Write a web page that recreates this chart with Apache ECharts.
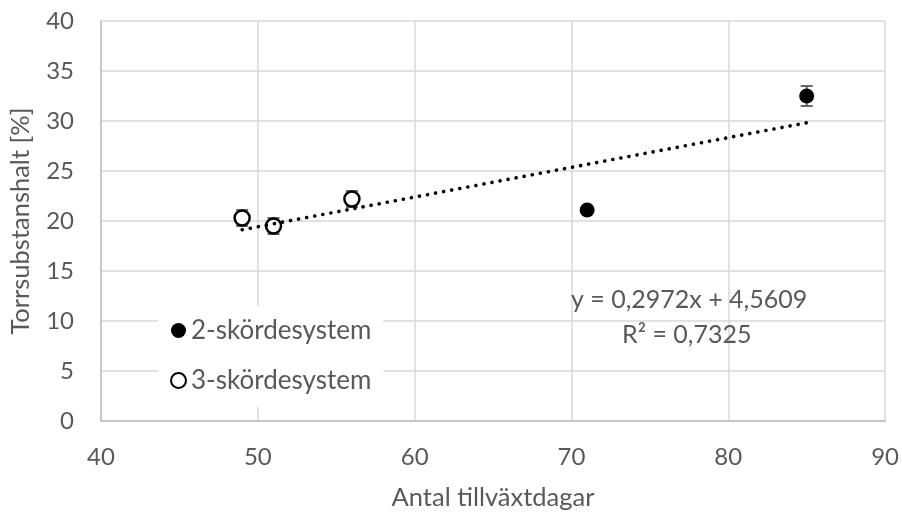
<!DOCTYPE html>
<html>
<head>
<meta charset="utf-8">
<script src="https://cdn.jsdelivr.net/npm/echarts@6/dist/echarts.min.js"></script>
<style>
  html, body { margin: 0; padding: 0; background: #fff; }
  #chart { width: 902px; height: 516px; }
</style>
</head>
<body>
<div id="chart"></div>
<script>
// 2-skördesystem: growth days, dry matter content and error
const days2 = [71, 85];
const dm2 = [21.1, 32.5];
const err2 = [0.3, 1.0];

// 3-skördesystem
const days3 = [49, 51, 56];
const dm3 = [20.3, 19.5, 22.2];
const err3 = [0.8, 0.8, 0.8];

// Linear trendline over all points
const trendSlope = 0.2972;
const trendIntercept = 4.5609;
const trendR2 = 0.7325;
const trendRange = [49, 85];

const xTicks = [40, 50, 60, 70, 80, 90];
const yTicks = [0, 5, 10, 15, 20, 25, 30, 35, 40];

const FONT = 'Lato, "Open Sans", sans-serif';
const TXT = '#595959';

const fmt = (v) => v.toFixed(4).replace('.', ',');

const pts = (xs, ys) => xs.map((x, i) => [x, ys[i]]);
const errPts = (xs, ys, es) => xs.map((x, i) => [x, ys[i] - es[i], ys[i] + es[i]]);

const trendData = trendRange.map(x => [x, trendSlope * x + trendIntercept]);

function renderErr(params, api) {
  const lo = api.coord([api.value(0), api.value(1)]);
  const hi = api.coord([api.value(0), api.value(2)]);
  const half = 6;
  const style = { stroke: '#595959', lineWidth: 1.8 };
  return {
    type: 'group',
    children: [
      { type: 'line', shape: { x1: lo[0], y1: lo[1], x2: hi[0], y2: hi[1] }, style },
      { type: 'line', shape: { x1: lo[0] - half, y1: lo[1], x2: lo[0] + half, y2: lo[1] }, style },
      { type: 'line', shape: { x1: hi[0] - half, y1: hi[1], x2: hi[0] + half, y2: hi[1] }, style }
    ]
  };
}

const chart = echarts.init(document.getElementById('chart'), null, { renderer: 'canvas' });

chart.setOption({
  animation: false,
  backgroundColor: '#fff',
  textStyle: { fontFamily: FONT },
  grid: { left: 101, right: 16, top: 21, bottom: 93 },
  xAxis: {
    type: 'value',
    min: xTicks[0],
    max: xTicks[xTicks.length - 1],
    interval: xTicks[1] - xTicks[0],
    name: 'Antal tillväxtdagar',
    nameLocation: 'middle',
    nameGap: 64,
    nameTextStyle: { fontFamily: FONT, fontSize: 25.5, color: TXT },
    axisLine: { show: true, onZero: false, lineStyle: { color: '#bfbfbf', width: 1.5 } },
    axisTick: { show: false },
    axisLabel: { fontFamily: FONT, fontSize: 24, color: TXT, margin: 24 },
    splitLine: { show: true, lineStyle: { color: '#d9d9d9', width: 1.5 } }
  },
  yAxis: {
    type: 'value',
    min: yTicks[0],
    max: yTicks[yTicks.length - 1],
    interval: yTicks[1] - yTicks[0],
    name: 'Torrsubstanshalt [%]',
    nameLocation: 'middle',
    nameGap: 67,
    nameTextStyle: { fontFamily: FONT, fontSize: 25.5, color: TXT },
    axisLine: { show: true, lineStyle: { color: '#bfbfbf', width: 1.5 } },
    axisTick: { show: false },
    axisLabel: { fontFamily: FONT, fontSize: 24, color: TXT, margin: 27 },
    splitLine: { show: true, lineStyle: { color: '#d9d9d9', width: 1.5 } }
  },
  legend: {
    orient: 'vertical',
    left: 158,
    top: 306,
    z: 10,
    backgroundColor: '#fff',
    padding: [11, 12, 13, 12],
    itemGap: 23,
    itemWidth: 15,
    itemHeight: 15,
    textStyle: { fontFamily: FONT, fontSize: 26, color: TXT, lineHeight: 27 },
    data: ['2-skördesystem', '3-skördesystem']
  },
  graphic: [
    {
      type: 'text', left: 571, top: 287, z: 10,
      style: { text: 'y = ' + fmt(trendSlope) + 'x + ' + fmt(trendIntercept), font: '25px ' + FONT, fill: TXT }
    },
    {
      type: 'text', left: 622, top: 322, z: 10,
      style: { text: 'R² = ' + fmt(trendR2), font: '25px ' + FONT, fill: TXT }
    }
  ],
  series: [
    {
      type: 'custom', name: 'err2', renderItem: renderErr, z: 2,
      data: errPts(days2, dm2, err2), encode: { x: 0, y: [1, 2] }, silent: true
    },
    {
      type: 'custom', name: 'err3', renderItem: renderErr, z: 2,
      data: errPts(days3, dm3, err3), encode: { x: 0, y: [1, 2] }, silent: true
    },
    {
      type: 'scatter', name: '2-skördesystem', z: 3,
      symbol: 'circle', symbolSize: 15,
      itemStyle: { color: '#000', opacity: 1 },
      data: pts(days2, dm2)
    },
    {
      type: 'scatter', name: '3-skördesystem', z: 3,
      symbol: 'circle', symbolSize: 15,
      itemStyle: { color: '#fff', borderColor: '#000', borderWidth: 2.5, opacity: 1 },
      data: pts(days3, dm3)
    },
    {
      type: 'line', name: 'trend', z: 4,
      data: trendData, showSymbol: false, symbol: 'none', silent: true,
      lineStyle: { color: '#000', width: 3.6, type: [0.1, 8.1], cap: 'round' }
    }
  ]
});
</script>
</body>
</html>
